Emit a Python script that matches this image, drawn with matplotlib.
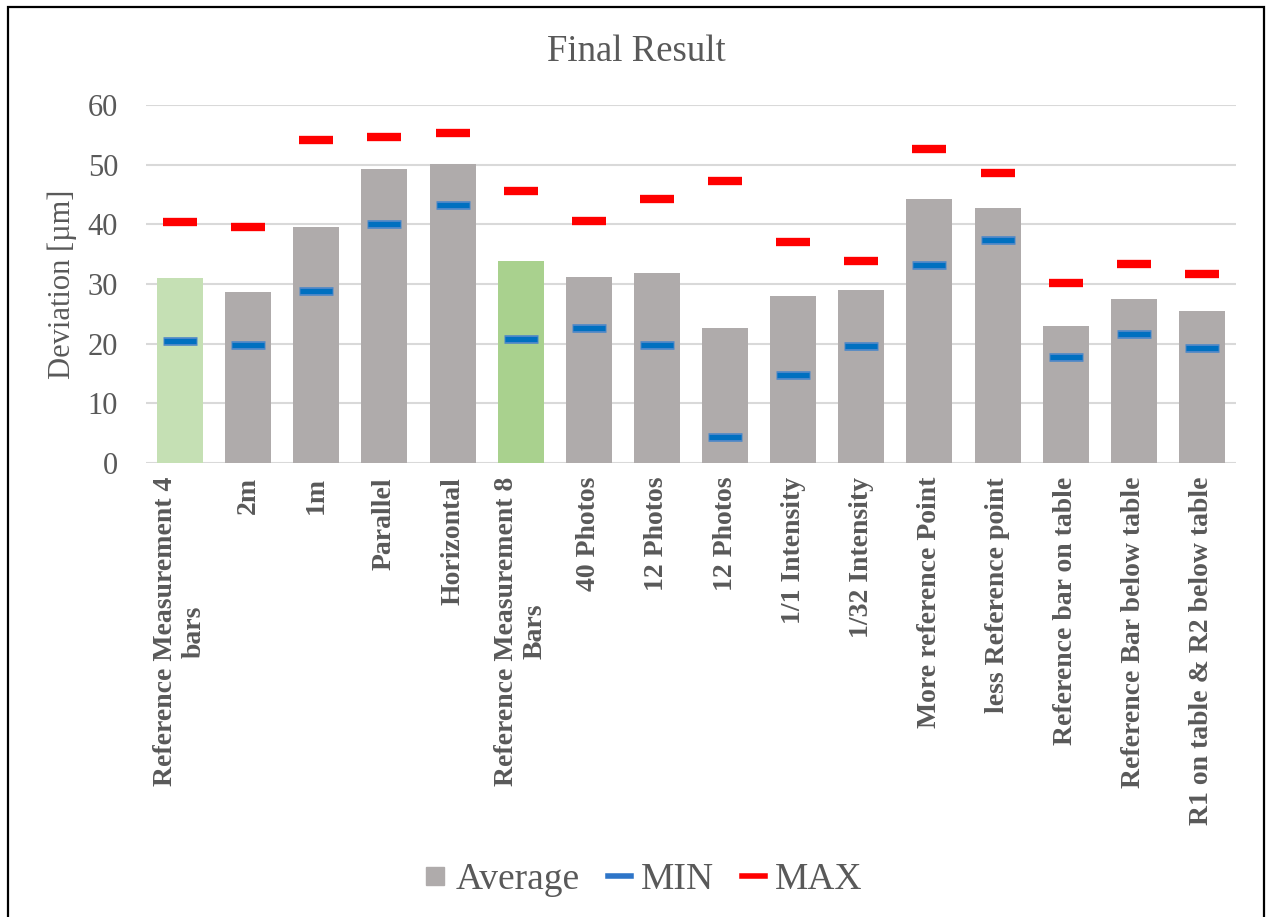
import matplotlib
matplotlib.use("Agg")
import matplotlib.pyplot as plt
from matplotlib.lines import Line2D
from matplotlib.patches import Rectangle
import numpy as np

plt.rcParams['font.family'] = ['Liberation Serif', 'DejaVu Serif']

categories = ["Reference Measurement 4\nbars", "2m", "1m", "Parallel", "Horizontal",
              "Reference Measurement 8\nBars", "40 Photos", "12 Photos", "12 Photos",
              "1/1 Intensity", "1/32 Intensity", "More reference Point",
              "less Reference point", "Reference bar on table",
              "Reference Bar below table", "R1 on table & R2 below table"]
average = [31.0, 28.6, 39.5, 49.2, 50.1, 33.8, 31.2, 31.8, 22.7, 28.0, 29.0, 44.2,
           42.7, 23.0, 27.5, 25.5]
min_vals = [20.45, 19.7, 28.9, 40.0, 43.2, 20.7, 22.6, 19.8, 4.3, 14.8, 19.6, 33.1,
            37.3, 17.8, 21.6, 19.2]
max_vals = [40.45, 39.5, 54.2, 54.7, 55.3, 45.6, 40.6, 44.3, 47.2, 37.1, 33.9, 52.7,
            48.6, 30.2, 33.3, 31.7]

gray = '#AFABAB'
bar_colors = [gray] * len(categories)
bar_colors[0] = '#C5E0B4'
bar_colors[5] = '#A9D18E'
txt = '#595959'

fig = plt.figure(figsize=(12.66, 9.17), dpi=100)
ax = fig.add_axes([0.1153, 0.4951, 0.861, 0.3904])

x = np.arange(len(categories))
ax.bar(x, average, width=0.675, color=bar_colors, zorder=2)
# MIN markers: lighter outline + darker core
ax.plot(x, min_vals, ls='none', marker='_', markersize=25, markeredgewidth=6.2,
        color='#4A86C8', zorder=3)
ax.plot(x, min_vals, ls='none', marker='_', markersize=23, markeredgewidth=3.6,
        color='#0070C0', zorder=4)
ax.plot(x, max_vals, ls='none', marker='_', markersize=25, markeredgewidth=6,
        color='#FF0000', zorder=3)

ax.set_xlim(-0.5, len(categories) - 0.5)
ax.set_ylim(0, 60)
ax.set_yticks(range(0, 61, 10))
ax.yaxis.grid(True, color='#D9D9D9', linewidth=1.5, zorder=0)
ax.set_axisbelow(True)
for s in ax.spines.values():
    s.set_visible(False)

ax.set_xticks(x)
ax.set_xticklabels(categories, rotation=90, fontweight='bold', fontsize=20, color=txt)
ax.tick_params(axis='x', length=0, pad=10)
ax.tick_params(axis='y', length=0, pad=20, labelsize=22, labelcolor=txt)

ax.set_ylabel('Deviation [µm]', fontsize=22, color=txt)
ax.yaxis.set_label_coords(-0.063, 0.5)

fig.text(0.5025, 0.944, 'Final Result', ha='center', va='center', fontsize=26.5, color=txt)

handles = [Line2D([], [], ls='none', marker='s', markersize=13, color=gray),
           Line2D([], [], color='#2E75C8', lw=4),
           Line2D([], [], color='#FF0000', lw=4)]
leg = fig.legend(handles, ['Average', 'MIN', 'MAX'], loc='center', ncol=3,
                 bbox_to_anchor=(0.5075, 0.041), frameon=False, fontsize=27,
                 handlelength=0.62, handletextpad=0.25, columnspacing=0.75)
for t in leg.get_texts():
    t.set_color(txt)

fig.patches.append(Rectangle((8 / 1266, -0.05), 1256 / 1266, 1 - 7 / 917 + 0.05,
                             transform=fig.transFigure, fill=False, edgecolor='black',
                             linewidth=1.6))

fig.savefig('out.png', dpi=100)
